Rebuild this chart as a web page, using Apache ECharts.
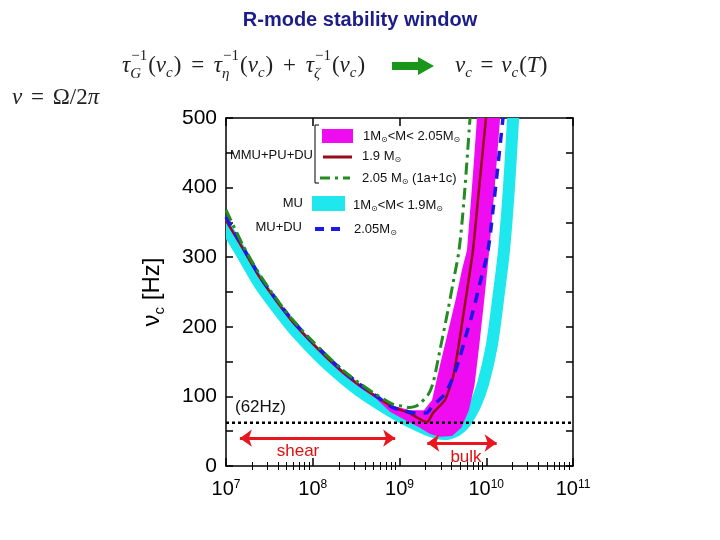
<!DOCTYPE html>
<html><head><meta charset="utf-8">
<script src="https://cdn.jsdelivr.net/npm/echarts@6/dist/echarts.min.js"></script>
<style>html,body{margin:0;padding:0;background:#fff}#c{width:720px;height:540px}</style>
</head><body><div id="c"></div>
<script>
// x values are log10(T / K)
const xTicks = [7, 8, 9, 10, 11];
const yTicks = [0, 100, 200, 300, 400, 500];

const redLogT = [7.0, 7.192, 7.384, 7.576, 7.769, 7.961, 8.153, 8.345, 8.537, 8.729, 8.921, 9.113, 9.317, 9.386, 9.524, 9.617, 9.674, 9.732, 9.847, 9.916, 9.997];
const redNu   = [353, 313, 272, 238, 207, 181, 157, 135, 116, 100, 85, 76, 63, 76, 95, 128, 167, 214, 310, 397, 500];

const greenLogT = [7.0, 7.192, 7.384, 7.576, 7.769, 7.961, 8.153, 8.345, 8.537, 8.729, 8.921, 9.037, 9.113, 9.19, 9.236, 9.328, 9.386, 9.467, 9.559, 9.617, 9.686, 9.743, 9.813];
const greenNu   = [368, 318, 276, 241, 210, 184, 160, 138, 119, 103, 89, 86, 84, 86, 90, 102, 119, 167, 224, 263, 310, 382, 500];

const blueLogT = [7.0, 7.192, 7.384, 7.576, 7.769, 7.961, 8.153, 8.345, 8.537, 8.729, 8.921, 9.037, 9.19, 9.305, 9.375, 9.524, 9.605, 9.686, 9.767, 9.836, 9.928, 10.02, 10.078, 10.135, 10.193];
const blueNu   = [358, 315, 274, 240, 209, 183, 159, 137, 118, 101, 84, 80, 76, 76, 85, 104, 124, 152, 188, 217, 263, 310, 368, 432, 500];

const cyanLogT = [7.0, 7.192, 7.384, 7.576, 7.769, 7.961, 8.153, 8.345, 8.537, 8.729, 8.921, 9.113, 9.305, 9.42, 9.54, 9.64, 9.70, 9.76, 9.875, 9.965, 10.065, 10.15, 10.205, 10.26, 10.31];
const cyanNu   = [343, 303, 262, 229, 198, 172, 148, 127, 108, 92, 77, 64, 53, 48, 46, 50, 55, 63, 88, 119, 174, 253, 310, 397, 500];

// magenta band outline (upper/left edge then right/lower edge)
const magentaLogT = [7.0, 7.192, 7.384, 7.576, 7.769, 7.961, 8.153, 8.345, 8.537, 8.729, 8.921, 9.037, 9.113, 9.2, 9.282, 9.375, 9.467, 9.559, 9.651, 9.720, 9.778, 9.824, 9.859, 9.893,
  10.16, 10.10, 10.035, 9.977, 9.92, 9.865, 9.80, 9.712, 9.605, 9.467, 9.352, 9.236, 9.063, 8.89, 8.729, 8.537, 8.345, 8.153, 7.961, 7.769, 7.576, 7.384, 7.192, 7.0];
const magentaNu = [356, 315, 274, 240, 209, 183, 159, 137, 118, 102, 87, 83, 80, 80, 80, 95, 145, 193, 241, 282, 310, 382, 440, 500,
  500, 404, 310, 239, 174, 116, 80, 55, 43, 42, 46, 55, 66, 78, 97, 113, 132, 154, 178, 204, 235, 269, 310, 350];

const refNu = 62;
const shearRange = [7.16, 8.95], shearNu = 40;
const bulkRange = [9.32, 10.12], bulkNu = 33;

const zip = (a, b) => a.map((v, i) => [v, b[i]]);
const minorX = [];
for (let d = 7; d < 11; d++) for (let k = 2; k <= 9; k++) minorX.push(d + Math.log10(k));

const FONT = 'Liberation Sans, Arial, sans-serif';
const SERIF = 'Liberation Serif, Times New Roman, serif';

// ---- math text helper (layout only)
const mctx = document.createElement('canvas').getContext('2d');
function tw(t, size, italic) { mctx.font = (italic ? 'italic ' : '') + size + 'px ' + SERIF; return mctx.measureText(t).width; }
function mathRow(x0, y0, tokens, size, opGap) {
  const ss = Math.round(size * 0.64);
  const els = []; let x = x0;
  const add = (t, xx, yy, fs, it) => els.push({type: 'text', x: xx, y: yy, silent: true,
    style: {text: t, fontSize: fs, fontFamily: SERIF, fontStyle: it ? 'italic' : 'normal', fill: '#222', align: 'left', verticalAlign: 'middle'}});
  tokens.forEach(([t, kind, stack]) => {
    if (kind === 'sup') {
      add(t, x + 1, y0 - size * 0.42, ss, false);
      let w = tw(t, ss, false);
      if (stack) { add(stack, x, y0 + size * 0.33, ss, true); w = Math.max(w, tw(stack, ss, true)); }
      x += w + 2;
    } else if (kind === 'sub') {
      add(t, x, y0 + size * 0.3, ss, true); x += tw(t, ss, true) + 1;
    } else if (kind === 'op') {
      x += opGap; add(t, x, y0, size, false); x += tw(t, size, false) + opGap;
    } else {
      const it = kind === 'i';
      add(t, x, y0, size, it); x += tw(t, size, it);
    }
  });
  return els;
}
const eq1 = [['τ','i'],['−1','sup','G'],['(','r'],['ν','i'],['c','sub'],[')','r'],[' = ','op'],
  ['τ','i'],['−1','sup','η'],['(','r'],['ν','i'],['c','sub'],[')','r'],[' + ','op'],
  ['τ','i'],['−1','sup','ζ'],['(','r'],['ν','i'],['c','sub'],[')','r']];
const eq2 = [['ν','i'],['c','sub'],[' = ','op'],['ν','i'],['c','sub'],['(','r'],['T','i'],[')','r']];
const eq3 = [['ν','i'],[' = ','op'],['Ω','r'],['/','r'],['2','r'],['π','i']];

const sunRich = {n: {fontSize: 13, fontFamily: FONT, fill: '#111', lineHeight: 16},
  s: {fontSize: 8, fontFamily: 'DejaVu Sans', fill: '#111', verticalAlign: 'bottom', lineHeight: 10}};
function legText(x, y, text, align) {
  return {type: 'text', x: x, y: y, silent: true,
    style: {text: text, rich: sunRich, align: align || 'left', verticalAlign: 'middle', fontSize: 13, fontFamily: FONT, fill: '#111'}};
}

const graphics = [].concat(
  mathRow(122, 66, eq1, 23, 4),
  mathRow(455, 66, eq2, 23, 2),
  mathRow(12, 98, eq3, 23, 3),
  [
    {type: 'polygon', silent: true, shape: {points: [[392, 62], [418, 62], [418, 57], [434, 66], [418, 75], [418, 70], [392, 70]]}, style: {fill: '#1a961a'}},
    // y axis name
    {type: 'text', x: 152, y: 292, rotation: Math.PI / 2, silent: true,
      style: {text: '{n|ν}{s|c}{n| [Hz]}', align: 'center', verticalAlign: 'middle',
        rich: {n: {fontSize: 24, fontFamily: FONT, fill: '#000', lineHeight: 30}, s: {fontSize: 15, fontFamily: FONT, fill: '#000', verticalAlign: 'bottom', lineHeight: 16}}}},
    // legend
    {type: 'polyline', silent: true, shape: {points: [[319, 125], [315, 125], [315, 183], [319, 183]]}, style: {stroke: '#000', lineWidth: 1, fill: null}},
    legText(313, 155, 'MMU+PU+DU', 'right'),
    {type: 'rect', silent: true, shape: {x: 322, y: 129, width: 31, height: 14}, style: {fill: '#f00cf0'}},
    legText(363, 136, '{n|1M}{s|⊙}{n|<M< 2.05M}{s|⊙}'),
    {type: 'line', silent: true, shape: {x1: 323, y1: 157, x2: 352, y2: 157}, style: {stroke: '#990a1a', lineWidth: 3}},
    legText(362, 156, '{n|1.9 M}{s|⊙}'),
    {type: 'line', silent: true, shape: {x1: 320, y1: 178, x2: 350, y2: 178}, style: {stroke: '#228b22', lineWidth: 3, lineDash: [10, 5, 3, 5]}},
    legText(362, 178, '{n|2.05 M}{s|⊙}{n| (1a+1c)}'),
    legText(303, 203, 'MU', 'right'),
    {type: 'rect', silent: true, shape: {x: 312, y: 196, width: 33, height: 15}, style: {fill: '#1fe7ee'}},
    legText(353, 205, '{n|1M}{s|⊙}{n|<M< 1.9M}{s|⊙}'),
    legText(302, 227, 'MU+DU', 'right'),
    {type: 'line', silent: true, shape: {x1: 315, y1: 229, x2: 346, y2: 229}, style: {stroke: '#1a1ae6', lineWidth: 4, lineDash: [9, 7]}},
    legText(354, 229, '{n|2.05M}{s|⊙}'),
    // annotations
    {type: 'text', x: 235, y: 407, silent: true, style: {text: '(62Hz)', fontSize: 17, fontFamily: FONT, fill: '#111', align: 'left', verticalAlign: 'middle'}},
    {type: 'text', x: 298, y: 451, silent: true, style: {text: 'shear', fontSize: 17, fontFamily: FONT, fill: '#dd1111', align: 'center', verticalAlign: 'middle'}},
    {type: 'text', x: 466, y: 457, silent: true, style: {text: 'bulk', fontSize: 17, fontFamily: FONT, fill: '#dd1111', align: 'center', verticalAlign: 'middle'}}
  ]
);

const axisLineStyle = {color: '#000', width: 1.5};
const chart = echarts.init(document.getElementById('c'), null, {renderer: 'canvas'});
chart.setOption({
  animation: false,
  backgroundColor: '#fff',
  title: {text: 'R-mode stability window', left: 'center', top: 5,
    textStyle: {color: '#1c1c8a', fontWeight: 'bold', fontSize: 20, fontFamily: FONT}},
  grid: {left: 226, right: 147, top: 118, bottom: 74, containLabel: false},
  xAxis: [
    {type: 'value', min: 7, max: 11, interval: 1, position: 'bottom',
      axisLine: {onZero: false, lineStyle: axisLineStyle},
      axisTick: {inside: true, length: 8, lineStyle: axisLineStyle},
      splitLine: {show: false},
      axisLabel: {margin: 13, formatter: v => '{b|10}{s|' + v + '}',
        rich: {b: {fontSize: 20, fontFamily: FONT, color: '#000', lineHeight: 20, padding: [7, 0, 0, 0], verticalAlign: 'bottom'},
               s: {fontSize: 12, fontFamily: FONT, color: '#000', lineHeight: 12, verticalAlign: 'top'}}}},
    {type: 'value', min: 7, max: 11, position: 'bottom',
      axisLine: {show: false}, axisLabel: {show: false}, splitLine: {show: false},
      axisTick: {inside: true, length: 4, customValues: minorX, lineStyle: {color: '#000', width: 1}}},
    {type: 'value', min: 7, max: 11, interval: 1, position: 'top',
      axisLine: {onZero: false, lineStyle: axisLineStyle}, axisLabel: {show: false}, splitLine: {show: false},
      axisTick: {inside: true, length: 8, lineStyle: axisLineStyle}},
    {type: 'value', min: 7, max: 11, position: 'top',
      axisLine: {show: false}, axisLabel: {show: false}, splitLine: {show: false},
      axisTick: {inside: true, length: 4, customValues: minorX, lineStyle: {color: '#000', width: 1}}}
  ],
  yAxis: [
    {type: 'value', min: 0, max: 500, interval: 100, position: 'left',
      axisLine: {show: true, onZero: false, lineStyle: axisLineStyle},
      axisTick: {show: true, inside: true, length: 7, lineStyle: axisLineStyle},
      minorTick: {show: true, splitNumber: 2, length: 7, lineStyle: {color: '#000', width: 1.5}},
      splitLine: {show: false},
      axisLabel: {margin: 9, fontSize: 21, fontFamily: FONT, color: '#000', formatter: v => yTicks.includes(v) ? String(v) : ''}},
    {type: 'value', min: 0, max: 500, interval: 100, position: 'right',
      axisLine: {show: true, onZero: false, lineStyle: axisLineStyle},
      axisTick: {show: true, inside: true, length: 7, lineStyle: axisLineStyle},
      minorTick: {show: true, splitNumber: 2, length: 7, lineStyle: {color: '#000', width: 1.5}},
      splitLine: {show: false}, axisLabel: {show: false}}
  ],
  series: [
    {name: 'MU 1M<M<1.9M', type: 'custom', xAxisIndex: 0, yAxisIndex: 0, data: [[7, 0]], clip: true, z: 2,
      renderItem: function (params, api) {
        const pts = cyanLogT.map((x, i) => api.coord([x, cyanNu[i]]));
        return {type: 'polyline', shape: {points: pts, smooth: 0.3},
          style: {stroke: '#1fe7ee', lineWidth: 12, fill: null, lineJoin: 'round', lineCap: 'round'}};
      }},
    {name: 'band', type: 'custom', xAxisIndex: 0, yAxisIndex: 0, data: [[7, 0]], clip: true, z: 3,
      renderItem: function (params, api) {
        const pts = magentaLogT.map((x, i) => api.coord([x, magentaNu[i]]));
        return {type: 'polygon', shape: {points: pts}, style: {fill: '#f00cf0'}};
      }},
    {name: 'ref', type: 'line', data: [[7, refNu], [11, refNu]], symbol: 'none', z: 4,
      lineStyle: {color: '#000', width: 2.5, type: [3, 3]},
      markLine: {silent: true, symbol: ['arrow', 'arrow'], symbolSize: [13, 12], label: {show: false},
        lineStyle: {color: '#e8171f', width: 3, type: 'solid'},
        data: [[{coord: [shearRange[0], shearNu]}, {coord: [shearRange[1], shearNu]}],
               [{coord: [bulkRange[0], bulkNu]}, {coord: [bulkRange[1], bulkNu]}]]}},
    {name: '1.9 M', type: 'line', data: zip(redLogT, redNu), symbol: 'none', smooth: 0.2, clip: true, z: 5,
      lineStyle: {color: '#990a1a', width: 2.5}},
    {name: '2.05M MU+DU', type: 'line', data: zip(blueLogT, blueNu), symbol: 'none', smooth: 0.3, clip: true, z: 6,
      lineStyle: {color: '#1a1ae6', width: 3.5, type: [10, 8]}},
    {name: '2.05 M (1a+1c)', type: 'line', data: zip(greenLogT, greenNu), symbol: 'none', smooth: 0.3, clip: true, z: 7,
      lineStyle: {color: '#228b22', width: 3, type: [12, 5, 3, 5]}}
  ],
  graphic: graphics
});
</script>
</body></html>
